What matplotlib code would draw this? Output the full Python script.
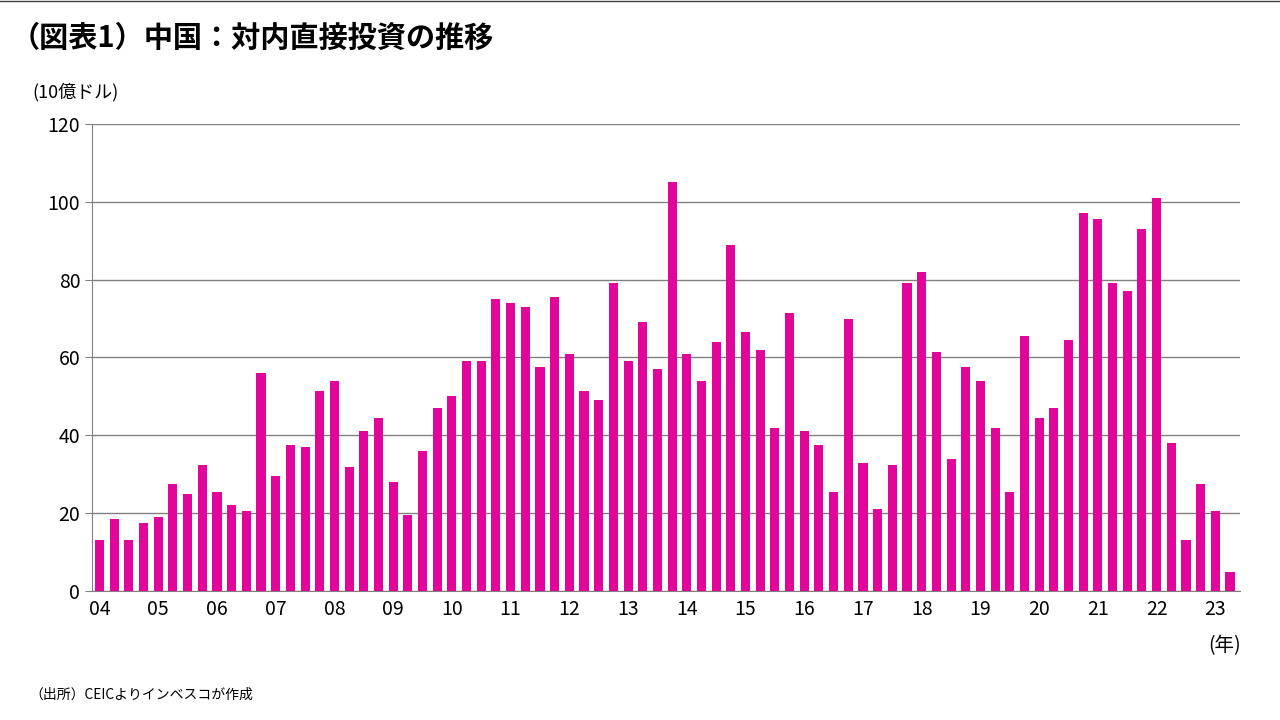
import matplotlib
matplotlib.use("Agg")
import matplotlib.pyplot as plt
import numpy as np

plt.rcParams["font.family"] = ["Noto Sans CJK JP"]

values = [13, 18.5, 13, 17.5, 19, 27.5, 25, 32.5, 25.5, 22, 20.5, 56,
          29.5, 37.5, 37, 51.5, 54, 32, 41, 44.5, 28, 19.5, 36, 47,
          50, 59, 59, 75, 74, 73, 57.5, 75.5, 61, 51.5, 49, 79,
          59, 69, 57, 105, 61, 54, 64, 89, 66.5, 62, 42, 71.5,
          41, 37.5, 25.5, 70, 33, 21, 32.5, 79, 82, 61.5, 34, 57.5,
          54, 42, 25.5, 65.5, 44.5, 47, 64.5, 97, 95.5, 79, 77, 93,
          101, 38, 13, 27.5, 20.5, 5]
year_labels = ["04", "05", "06", "07", "08", "09", "10", "11", "12", "13",
               "14", "15", "16", "17", "18", "19", "20", "21", "22", "23"]
yticks = [0, 20, 40, 60, 80, 100, 120]

fig = plt.figure(figsize=(12.8, 7.2), dpi=100)
ax = fig.add_axes([0.072, 0.179, 0.897, 0.649])
x = np.arange(len(values))
ax.bar(x, values, width=0.62, color="#E2059A", zorder=3)
ax.set_ylim(0, 120)
ax.set_xlim(-0.5, len(values) - 0.3)
ax.set_yticks(yticks)
ax.yaxis.grid(True, color="#808080", linewidth=1, zorder=0)
ax.set_xticks(np.arange(len(year_labels)) * 4)
ax.set_xticklabels(year_labels)
ax.tick_params(axis="x", length=0, labelsize=14, pad=6)
ax.tick_params(axis="y", length=5, labelsize=14, color="#808080")
for s in ["top", "right"]:
    ax.spines[s].set_visible(False)
ax.spines["left"].set_color("#808080")
ax.spines["bottom"].set_color("#808080")

fig.add_artist(plt.Line2D([0, 1], [0.999, 0.999], color="#404040", lw=1))
fig.text(0.008, 0.948, "（図表1）中国：対内直接投資の推移", fontsize=21, fontweight="bold", va="center")
fig.text(0.025, 0.872, "(10億ドル)", fontsize=13, va="center")
fig.text(0.944, 0.103, "(年)", fontsize=14, va="center")
fig.text(0.023, 0.035, "（出所）CEICよりインベスコが作成", fontsize=10, va="center")

fig.savefig("out.png", dpi=100)
